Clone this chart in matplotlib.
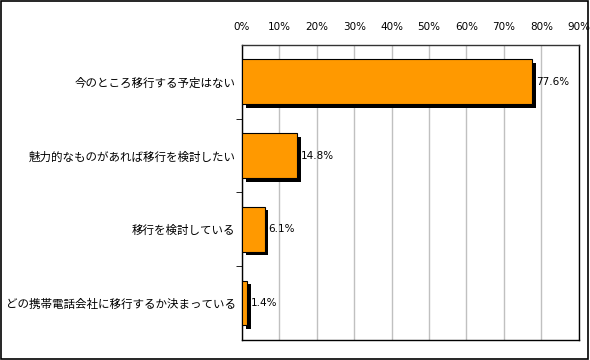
import matplotlib
matplotlib.use('Agg')
import matplotlib.pyplot as plt
import matplotlib.patheffects as pe
from matplotlib.patches import Rectangle
import numpy as np

plt.rcParams['font.family'] = ['Noto Sans CJK JP', 'DejaVu Sans']

categories = ['今のところ移行する予定はない',
              '魅力的なものがあれば移行を検討したい',
              '移行を検討している',
              'どの携帯電話会社に移行するか決まっている']
values = [77.6, 14.8, 6.1, 1.4]
xticks = list(range(0, 100, 10))

fig = plt.figure(figsize=(5.9, 3.6), dpi=100)
fig.patches.append(Rectangle((0.002, 0.003), 0.995, 0.994, transform=fig.transFigure,
                             fill=False, edgecolor='black', linewidth=1.2))
ax = fig.add_axes([0.410, 0.056, 0.571, 0.819])

y = np.arange(len(categories))
bars = ax.barh(y, values, height=0.61, color='#FF9900', edgecolor='black', linewidth=0.8,
               zorder=3)
for b in bars:
    b.set_path_effects([pe.SimplePatchShadow(offset=(2.6, -2.6), shadow_rgbFace='black', alpha=1.0),
                        pe.Normal()])
for yi, v in zip(y, values):
    ax.text(v + 1.0, yi, f'{v:.1f}%', va='center', ha='left', fontsize=7.5,
            family=['DejaVu Sans'], zorder=4)

ax.set_xlim(0, 90)
ax.set_ylim(len(categories) - 0.5, -0.5)
ax.set_xticks(xticks)
ax.set_xticklabels([f'{t}%' for t in xticks], fontsize=7.5, family=['DejaVu Sans'])
ax.xaxis.tick_top()
ax.tick_params(axis='x', length=0, pad=9.5)
ax.grid(axis='x', color='#c0c0c0', linewidth=1, zorder=0)

ax.set_yticks(y)
ax.set_yticklabels(categories, fontsize=8.3)
ax.set_yticks(np.arange(-0.5, len(categories), 1.0)[1:-1], minor=True)
ax.tick_params(axis='y', which='major', length=0, pad=4.5)
ax.tick_params(axis='y', which='minor', length=4, direction='out', color='black')

for s in ax.spines.values():
    s.set_color('black')
    s.set_linewidth(1)
ax.spines['top'].set_color('#333333')

fig.savefig('out.png', dpi=100)
